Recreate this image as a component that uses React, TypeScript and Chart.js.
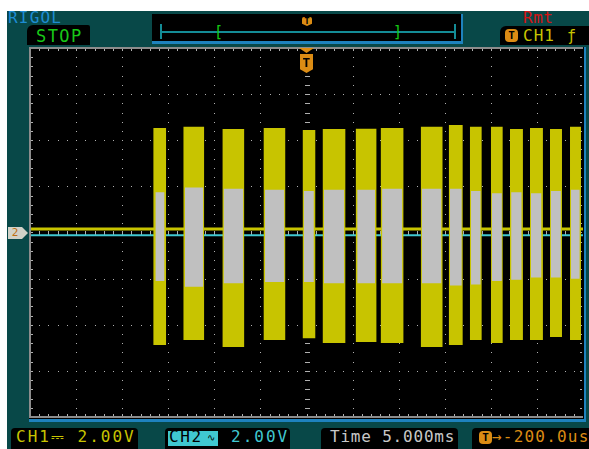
import React, { useEffect, useRef } from "react";
import { Chart, registerables } from "chart.js";

Chart.register(...registerables);

// time axis in ms relative to trigger (5 ms/div, 12 div); volts (2 V/div, 8 div)
const timeMin = -30;
const timeMax = 30;
const voltMin = -8;
const voltMax = 8;

// CH1 (yellow) bursts
const ch1Start = [-16.63, -13.37, -9.13, -4.67, -0.43, 1.74, 5.33, 8.04, 12.39, 15.43, 17.72, 20.0, 22.07, 24.24, 26.41, 28.59];
const ch1End = [-15.22, -11.09, -6.74, -2.28, 0.98, 4.24, 7.61, 10.54, 14.78, 16.96, 19.02, 21.3, 23.48, 25.65, 27.72, 29.78];
const ch1High = [4.53, 4.58, 4.49, 4.53, 4.44, 4.49, 4.5, 4.53, 4.58, 4.66, 4.58, 4.58, 4.49, 4.53, 4.49, 4.58];
const ch1Low = [-4.88, -4.66, -4.97, -4.66, -4.58, -4.79, -4.75, -4.79, -4.97, -4.88, -4.66, -4.79, -4.66, -4.66, -4.53, -4.66];

// CH2 (grey) bursts
const ch2Start = [-16.4, -13.2, -9.0, -4.5, -0.3, 1.9, 5.5, 8.2, 12.5, 15.55, 17.85, 20.1, 22.2, 24.35, 26.5, 28.7];
const ch2End = [-15.4, -11.2, -6.85, -2.4, 0.8, 4.1, 7.45, 10.4, 14.65, 16.85, 18.9, 21.2, 23.35, 25.5, 27.6, 29.65];
const ch2High = [1.75, 1.95, 1.9, 1.85, 1.8, 1.85, 1.85, 1.9, 1.9, 1.9, 1.8, 1.7, 1.75, 1.7, 1.8, 1.85];
const ch2Low = [-2.1, -2.35, -2.2, -2.15, -2.15, -2.2, -2.2, -2.2, -2.2, -2.3, -2.25, -2.1, -2.05, -1.95, -1.95, -2.0];

// idle traces
const ch1IdleLevel = 0.15;
const ch2IdleLevel = -0.12;

const YELLOW = "rgb(200,196,0)";
const GREY = "rgb(192,192,192)";
const CYAN = "rgb(64,200,208)";
const TEAL = "rgb(8,72,72)";

const graticule = {
  id: "graticule",
  beforeDatasetsDraw(chart: any) {
    const { ctx, chartArea } = chart;
    const xs = chart.scales.x;
    const ys = chart.scales.y;
    const { left, right, top, bottom } = chartArea;
    ctx.save();
    ctx.fillStyle = "rgb(176,176,176)";
    // dotted division lines
    for (let t = timeMin + 5; t < timeMax; t += 5) {
      const x = Math.round(xs.getPixelForValue(t));
      if (t === 0) continue;
      for (let v = voltMin + 0.4; v < voltMax; v += 0.4) {
        const y = Math.round(ys.getPixelForValue(v));
        ctx.fillRect(x, y, 1, 1);
      }
    }
    for (let v = voltMin + 2; v < voltMax; v += 2) {
      const y = Math.round(ys.getPixelForValue(v));
      if (Math.abs(v) < 1e-6) continue;
      for (let t = timeMin + 1; t < timeMax; t += 1) {
        const x = Math.round(xs.getPixelForValue(t));
        ctx.fillRect(x, y, 1, 1);
      }
    }
    // centre lines with sub-division dashes
    const cx = Math.round(xs.getPixelForValue(0));
    const cy = Math.round(ys.getPixelForValue(0));
    for (let v = voltMin + 0.4; v < voltMax; v += 0.4) {
      const y = Math.round(ys.getPixelForValue(v));
      const major = Math.abs(v / 2 - Math.round(v / 2)) < 1e-6;
      ctx.fillRect(cx - 2, y, 5, 1);
      if (major) ctx.fillRect(cx, y, 1, 1);
    }
    for (let t = timeMin + 1; t < timeMax; t += 1) {
      const x = Math.round(xs.getPixelForValue(t));
      ctx.fillRect(x, cy - 2, 1, 5);
    }
    // edge ticks
    for (let t = timeMin + 1; t < timeMax; t += 1) {
      const x = Math.round(xs.getPixelForValue(t));
      ctx.fillRect(x, Math.round(top) + 1, 1, 2);
      ctx.fillRect(x, Math.round(bottom) - 3, 1, 2);
    }
    for (let v = voltMin + 0.4; v < voltMax; v += 0.4) {
      const y = Math.round(ys.getPixelForValue(v));
      ctx.fillRect(Math.round(left) + 1, y, 2, 1);
      ctx.fillRect(Math.round(right) - 3, y, 2, 1);
    }
    ctx.restore();
  },
  afterDraw(chart: any) {
    const { ctx, chartArea } = chart;
    const { left, right, top, bottom } = chartArea;
    ctx.save();
    ctx.strokeStyle = "rgb(140,140,140)";
    ctx.lineWidth = 2;
    ctx.beginPath();
    ctx.moveTo(Math.round(right), Math.round(top));
    ctx.lineTo(Math.round(left), Math.round(top));
    ctx.lineTo(Math.round(left), Math.round(bottom));
    ctx.lineTo(Math.round(right), Math.round(bottom));
    ctx.stroke();
    ctx.strokeStyle = "rgb(30,130,190)";
    ctx.lineWidth = 3;
    ctx.beginPath();
    ctx.moveTo(Math.round(left) - 1, Math.round(bottom) + 3.5);
    ctx.lineTo(Math.round(right) + 2.5, Math.round(bottom) + 3.5);
    ctx.lineTo(Math.round(right) + 2.5, Math.round(top) - 1);
    ctx.stroke();
    ctx.restore();
  },
};

function buildDatasets() {
  const ds: any[] = [];
  ds.push({
    data: [{ x: timeMin, y: ch1IdleLevel }, { x: timeMax, y: ch1IdleLevel }],
    borderColor: YELLOW, borderWidth: 3, pointRadius: 0, fill: false, order: 3,
  });
  ds.push({
    data: [{ x: timeMin, y: ch2IdleLevel }, { x: timeMax, y: ch2IdleLevel }],
    borderColor: CYAN, borderWidth: 2, pointRadius: 0, fill: false, order: 4,
  });
  for (let i = 0; i < ch1Start.length; i++) {
    ds.push({
      data: [{ x: ch1Start[i], y: ch1High[i] }, { x: ch1End[i], y: ch1High[i] }],
      borderWidth: 0, pointRadius: 0, backgroundColor: YELLOW, borderColor: YELLOW,
      fill: { value: ch1Low[i] }, order: 2,
    });
  }
  for (let i = 0; i < ch2Start.length; i++) {
    ds.push({
      data: [{ x: ch2Start[i], y: ch2High[i] }, { x: ch2End[i], y: ch2High[i] }],
      borderWidth: 0, pointRadius: 0, backgroundColor: GREY, borderColor: GREY,
      fill: { value: ch2Low[i] }, order: 1,
    });
  }
  return ds;
}

function Scope() {
  const ref = useRef<HTMLCanvasElement>(null);
  useEffect(() => {
    if (!ref.current) return;
    const chart = new Chart(ref.current, {
      type: "line",
      data: { datasets: buildDatasets() },
      options: {
        responsive: false,
        animation: false,
        devicePixelRatio: 1,
        layout: { padding: { left: 1, top: 1, right: 3, bottom: 5 } },
        plugins: { legend: { display: false }, tooltip: { enabled: false } },
        scales: {
          x: {
            type: "linear", min: timeMin, max: timeMax,
            grid: { display: false, drawTicks: false },
            border: { display: false },
            ticks: { display: false },
          },
          y: {
            type: "linear", min: voltMin, max: voltMax,
            grid: { display: false, drawTicks: false },
            border: { display: false },
            ticks: { display: false },
          },
        },
      },
      plugins: [graticule],
    });
    return () => chart.destroy();
  }, []);
  return (
    <canvas
      ref={ref}
      width={557}
      height={375}
      style={{ position: "absolute", left: 29, top: 47, width: 557, height: 375, background: "#000" }}
    />
  );
}

const mono = '"DejaVu Sans Mono", "Liberation Mono", monospace';

function Txt(props: { x: number; base: number; color: string; ls?: number; size?: number; children: any; bg?: string }) {
  const size = props.size ?? 16;
  return (
    <div
      style={{
        position: "absolute", left: props.x, top: props.base - size * 0.845,
        fontFamily: mono, fontSize: size, lineHeight: `${size}px`, color: props.color,
        letterSpacing: props.ls ?? 1.5, whiteSpace: "pre", background: props.bg,
      }}
    >
      {props.children}
    </div>
  );
}

function Box(props: { x: number; y: number; w: number; h: number; bg?: string; r?: string; border?: string }) {
  return (
    <div
      style={{
        position: "absolute", left: props.x, top: props.y, width: props.w, height: props.h,
        background: props.bg ?? "#000", borderRadius: props.r ?? "4px", boxSizing: "border-box",
        border: props.border,
      }}
    />
  );
}

export default function App() {
  return (
    <div style={{ position: "absolute", left: 0, top: 0, width: 589, height: 449, background: "#fff", overflow: "hidden" }}>
      <div style={{ position: "absolute", left: 7, top: 11, width: 582, height: 438, background: TEAL }} />
      {/* top bar */}
      <Txt x={8} base={24} color="rgb(30,140,210)" ls={1.2}>RIGOL</Txt>
      <Box x={27} y={25} w={63} h={20} r="6px 2px 0 0" />
      <Txt x={36} base={42} color="rgb(24,200,24)" ls={1.4} size={17}>STOP</Txt>
      <div style={{ position: "absolute", left: 152, top: 14, width: 311, height: 30, background: "#000", borderRight: "2px solid rgb(30,130,190)", borderBottom: "3px solid rgb(30,130,190)", boxSizing: "border-box" }} />
      <div style={{ position: "absolute", left: 160, top: 31, width: 296, height: 2, background: "rgb(20,140,150)" }} />
      <div style={{ position: "absolute", left: 160, top: 24, width: 2, height: 15, background: "rgb(20,140,150)" }} />
      <div style={{ position: "absolute", left: 454, top: 24, width: 2, height: 15, background: "rgb(20,140,150)" }} />
      <Txt x={214} base={38} color="rgb(20,200,20)" ls={0} size={15}>[</Txt>
      <Txt x={393} base={38} color="rgb(20,200,20)" ls={0} size={15}>]</Txt>
      <div style={{ position: "absolute", left: 302, top: 17, width: 10, height: 9, background: "rgb(220,140,20)", borderRadius: "2px", clipPath: "polygon(0 0,100% 0,100% 75%,50% 100%,0 75%)" }} />
      <div style={{ position: "absolute", left: 302, top: 16, width: 10, fontFamily: mono, fontSize: 9, fontWeight: "bold", lineHeight: "10px", textAlign: "center", color: "#000" }}>T</div>
      <Txt x={523} base={24} color="rgb(210,20,20)" ls={0.5}>Rmt</Txt>
      <Box x={500} y={26} w={89} h={19} r="6px 0 0 0" />
      <div style={{ position: "absolute", left: 505, top: 29, width: 13, height: 13, borderRadius: "4px", background: "rgb(220,140,20)" }} />
      <div style={{ position: "absolute", left: 505, top: 29, width: 13, fontFamily: mono, fontSize: 11, fontWeight: "bold", lineHeight: "13px", textAlign: "center", color: "#000" }}>T</div>
      <Txt x={523} base={42} color={YELLOW} ls={1}>CH1</Txt>
      <Txt x={567} base={42} color={YELLOW} ls={0} size={15}>ƒ</Txt>

      <Scope />

      {/* trigger position marker */}
      <div style={{ position: "absolute", left: 299, top: 48, width: 15, height: 5, background: "rgb(220,140,20)", clipPath: "polygon(0 0,100% 0,50% 100%)" }} />
      <div style={{ position: "absolute", left: 300, top: 54, width: 13, height: 19, background: "rgb(220,140,20)", clipPath: "polygon(0 0,100% 0,100% 80%,50% 100%,0 80%)" }} />
      <div style={{ position: "absolute", left: 300, top: 55, width: 13, fontFamily: mono, fontSize: 13, fontWeight: "bold", lineHeight: "15px", textAlign: "center", color: "#000" }}>T</div>
      {/* channel ground marker */}
      <div style={{ position: "absolute", left: 8, top: 227, width: 20, height: 12, background: "rgb(210,210,200)", clipPath: "polygon(0 0,70% 0,100% 50%,70% 100%,0 100%)" }} />
      <div style={{ position: "absolute", left: 9, top: 226, width: 12, fontFamily: mono, fontSize: 11, lineHeight: "14px", textAlign: "center", color: "rgb(190,110,20)" }}>2</div>

      {/* bottom bar */}
      <Box x={11} y={428} w={127} h={21} r="4px 4px 0 0" />
      <Txt x={16} base={443} color={YELLOW} ls={2}>CH1⎓ 2.00V</Txt>
      <Box x={165} y={428} w={125} h={21} r="4px 4px 0 0" />
      <div style={{ position: "absolute", left: 168, top: 431, width: 50, height: 15, background: CYAN }} />
      <Txt x={169} base={443} color="#000" ls={1.6}>CH2</Txt>
      <Txt x={207} base={441} color="#000" ls={0} size={10}>∿</Txt>
      <Txt x={231} base={443} color={CYAN} ls={2}>2.00V</Txt>
      <Box x={321} y={428} w={137} h={21} r="4px 4px 0 0" />
      <Txt x={330} base={443} color="rgb(200,200,200)" ls={0.8}>Time 5.000ms</Txt>
      <Box x={472} y={428} w={117} h={21} r="4px 0 0 0" />
      <div style={{ position: "absolute", left: 479, top: 431, width: 13, height: 13, borderRadius: "4px", background: "rgb(220,140,20)" }} />
      <div style={{ position: "absolute", left: 479, top: 431, width: 13, fontFamily: mono, fontSize: 11, fontWeight: "bold", lineHeight: "13px", textAlign: "center", color: "#000" }}>T</div>
      <Txt x={492} base={443} color="rgb(220,140,20)" ls={1.2}>→-200.0us</Txt>
    </div>
  );
}
